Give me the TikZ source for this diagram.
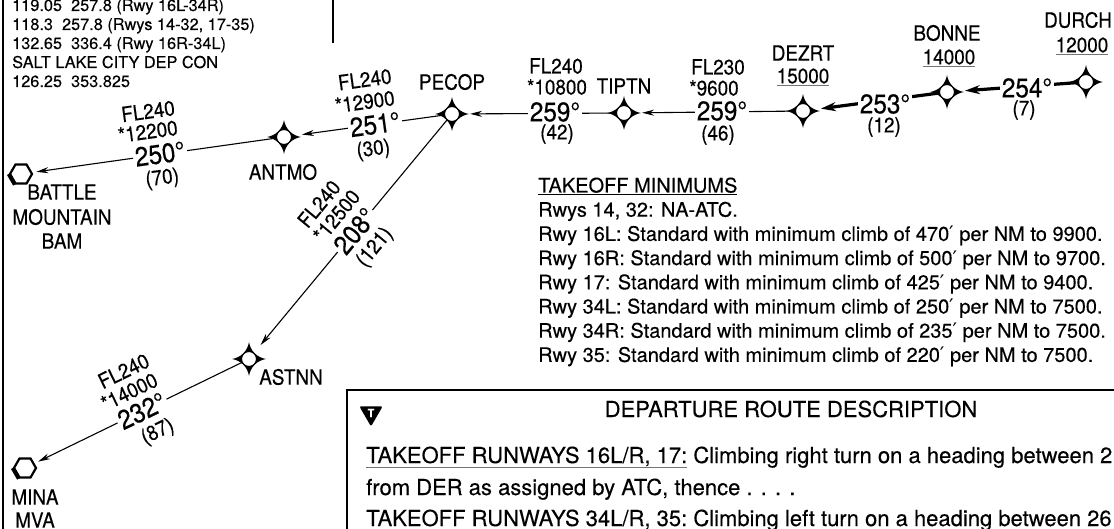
\documentclass[tikz,border=0pt]{standalone}
\usepackage{fontspec}
\setmainfont[FakeBold=0.25]{TeX Gyre Heros}
\newfontfamily\labf[FakeStretch=0.9,FakeBold=0.3]{TeX Gyre Heros}
\newfontfamily\dvs{DejaVu Sans}
\usetikzlibrary{arrows.meta,shapes.geometric}
\definecolor{ulgray}{gray}{0.45}
\newcommand\prm{{\dvs\char"2032}}
\newcommand\ulg[1]{\textcolor{ulgray}{\underline{\textcolor{black}{#1}}}}
\tikzset{
  wstar/.pic={\fill (0,-17) .. controls (1.5,-8) and (8,-1.5) .. (17,0)
      .. controls (8,1.5) and (1.5,8) .. (0,17)
      .. controls (-1.5,8) and (-8,1.5) .. (-17,0)
      .. controls (-8,-1.5) and (-1.5,-8) .. (0,-17) -- cycle;},
  wp/.style={circle, draw, fill=white, line width=1.1pt, inner sep=0pt, minimum size=15pt},
  vor/.style={regular polygon, regular polygon sides=6, draw, line width=2.2pt, inner sep=0pt, minimum size=22pt, fill=white},
  route/.style={line width=1.1pt, -{Stealth[length=12pt,width=6pt]}, shorten >=10pt},
  troute/.style={line width=3.2pt, -{Stealth[length=15pt,width=9pt]}, shorten >=10pt},
  deg/.style={font=\labf\fontsize{27}{30}\selectfont, fill=white, inner sep=2pt},
  lab/.style={font=\labf\fontsize{21}{24}\selectfont, inner sep=0pt},
  tl/.style={font=\fontsize{16.3}{19}\selectfont, anchor=base west, inner sep=0pt},
  tm/.style={font=\fontsize{20}{24}\selectfont, anchor=base west, inner sep=0pt},
  bx/.style={font=\fontsize{22}{26}\selectfont, anchor=base west, inner sep=0pt},
  border/.style={line width=2.5pt},
}
\begin{document}
\begin{tikzpicture}[x=1pt,y=-1pt]
\useasboundingbox (0,0) rectangle (1114,529);
\clip (0,0) rectangle (1114,529);

% borders
\draw[border] (3,0) -- (3,529);
\draw[line width=1.5pt] (333,0) -- (333,43);
\draw[border] (347,529) -- (347,390) -- (1114,390);

% frequency text
\node[tl] (f1) at (12,11) {119.05\ \ 257.8 (Rwy 16L-34R)};
\node[tl] (f2) at (12,30) {118.3\ \ 257.8 (Rwys 14-32, 17-35)};
\node[tl] (f3) at (12,49) {132.65\ \ 336.4 (Rwy 16R-34L)};
\node[tl] (f4) at (12,68) {SALT LAKE CITY DEP CON};
\node[tl] (f5) at (12,87) {126.25\ \ 353.825};

% waypoints
\foreach \nm/\x/\y in {pecop/452/114, tiptn/624/113, dezrt/803/111, bonne/947/92, durch/1086/82, antmo/284/137, astnn/249/359}{
  \pic at (\x,\y) {wstar};
  \node[wp] (\nm) at (\x,\y) {};
}
\node[vor] (bam) at (21,174) {};
\draw[line width=4pt] (bam.corner 3) -- (bam.corner 4);
\node[vor] (mina) at (25,468) {};
\draw[line width=4pt] (mina.corner 3) -- (mina.corner 4);

% names
\node[lab] (npecop) at (452,82) {PECOP};
\node[lab] (ntiptn) at (624,86) {TIPTN};
\node[lab] (ndezrt) at (803,53) {DEZRT};
\node[lab] (adezrt) at (803,77) {\ulg{15000}};
\node[lab] (nbonne) at (947,33) {BONNE};
\node[lab] (abonne) at (949,58) {\ulg{14000}};
\node[lab] (ndurch) at (1078,20) {DURCH};
\node[lab] (adurch) at (1082,46) {\ulg{12000}};
\node[lab] (nantmo) at (283,172) {ANTMO};
\node[lab] (nastnn) at (291,377) {ASTNN};
\node[lab] (nbam1) at (62,192) {BATTLE};
\node[lab] (nbam2) at (62,217) {MOUNTAIN};
\node[lab] (nbam3) at (62,241) {BAM};
\node[lab] (nmina1) at (35,497) {MINA};
\node[lab] (nmina2) at (35,520) {MVA};

% connectors
\draw[route] (tiptn) -- (pecop);
\draw[route] (dezrt) -- (tiptn);
\draw[troute] (bonne) -- (dezrt);
\draw[troute] (durch) -- (bonne);
\draw[route] (pecop) -- (antmo);
\draw[route, shorten >=4pt] (antmo) -- (bam);
\draw[route] (pecop) -- (astnn);
\draw[route, shorten >=4pt] (astnn) -- (mina);

% horizontal segment labels
\node[lab] (fl1) at (556,66) {FL240};
\node[lab] (al1) at (557,87) {*10800};
\node[deg] (dg1) at (555,112) {259°};
\node[lab] (ds1) at (557,134) {(42)};

\node[lab] (fl2) at (718,67) {FL230};
\node[lab] (al2) at (714,88) {*9600};
\node[deg] (dg2) at (722,111) {259°};
\node[lab] (ds2) at (718,135) {(46)};

\node[deg] (dg3) at (885,104) {253°};
\node[lab] (ds3) at (884,127) {(12)};
\node[deg] (dg4) at (1027,88) {254°};
\node[lab] (ds4) at (1024,110) {(7)};

% sloped segment labels
\begin{scope}[shift={(375,124.5)}, rotate=7.8, transform shape]
  \node[deg] (dg5) at (0,0) {251°};
  \node[lab] (fl5) at (-4,-46) {FL240};
  \node[lab] (al5) at (-7,-24) {*12900};
  \node[lab] (ds5) at (-5,25) {(30)};
\end{scope}
\begin{scope}[shift={(160,154)}, rotate=7.8, transform shape]
  \node[deg] (dg6) at (0,0) {250°};
  \node[lab] (fl6) at (-6,-44) {FL240};
  \node[lab] (al6) at (-9,-24) {*12200};
  \node[lab] (ds6) at (-1,25) {(70)};
\end{scope}
\begin{scope}[shift={(355,231)}, rotate=50.4, transform shape]
  \node[deg] (dg7) at (0,0) {208°};
  \node[lab] (fl7) at (-2,-45) {FL240};
  \node[lab] (al7) at (0,-24) {*12500};
  \node[lab] (ds7) at (0,26) {(121)};
\end{scope}
\begin{scope}[shift={(142,411)}, rotate=25.9, transform shape]
  \node[deg] (dg8) at (0,0) {232°};
  \node[lab] (fl8) at (1,-44) {FL240};
  \node[lab] (al8) at (-3,-23) {*14000};
  \node[lab] (ds8) at (5,26) {(87)};
\end{scope}

% takeoff minimums
\node[tm] (tm0) at (538,192.5) {\underline{TAKEOFF MINIMUMS}};
\node[tm] (tm1) at (538,216.7) {Rwys 14, 32: NA-ATC.};
\node[tm] (tm2) at (538,240.9) {Rwy 16L: Standard with minimum climb of 470\prm{} per NM to 9900.};
\node[tm] (tm3) at (538,265.1) {Rwy 16R: Standard with minimum climb of 500\prm{} per NM to 9700.};
\node[tm] (tm4) at (538,289.3) {Rwy 17: Standard with minimum climb of 425\prm{} per NM to 9400.};
\node[tm] (tm5) at (538,313.5) {Rwy 34L: Standard with minimum climb of 250\prm{} per NM to 7500.};
\node[tm] (tm6) at (538,337.7) {Rwy 34R: Standard with minimum climb of 235\prm{} per NM to 7500.};
\node[tm] (tm7) at (538,361.9) {Rwy 35: Standard with minimum climb of 220\prm{} per NM to 7500.};

% departure route description
\node[regular polygon, regular polygon sides=3, shape border rotate=180, fill=black, text=white,
      inner sep=0pt, minimum size=27pt, rounded corners=2pt,
      font=\bfseries\fontsize{11}{11}\selectfont] (tsym) at (371,413) {T};
\node[bx, anchor=base] (hd) at (791,417) {DEPARTURE ROUTE DESCRIPTION};
\node[bx] (b1) at (366,463) {\ulg{TAKEOFF RUNWAYS 16L/R, 17:} Climbing right turn on a heading between 2};
\node[bx] (b2) at (366,495) {from DER as assigned by ATC, thence . . . .};
\node[bx] (b3) at (366,526) {\ulg{TAKEOFF RUNWAYS 34L/R, 35:} Climbing left turn on a heading between 26};
\end{tikzpicture}
\end{document}
